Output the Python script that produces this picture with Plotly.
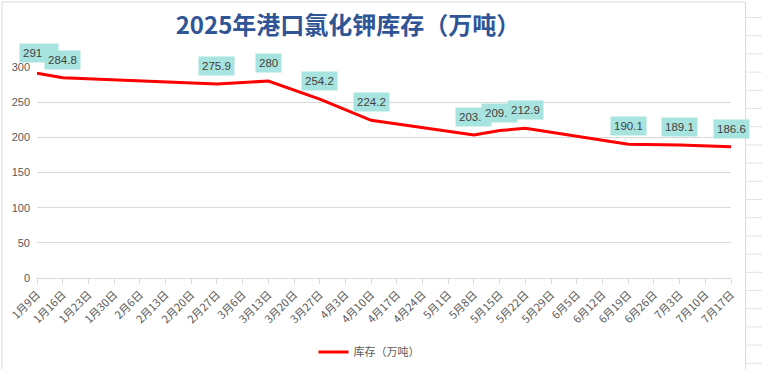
import plotly.graph_objects as go

# ---- data ----
dates = ["2025-01-09", "2025-01-16", "2025-02-27", "2025-03-13", "2025-03-27",
         "2025-04-10", "2025-05-08", "2025-05-15", "2025-05-22", "2025-06-19",
         "2025-07-03", "2025-07-17"]
values = [291, 284.8, 275.9, 280, 254.2, 224.2, 203.3, 209.6, 212.9, 190.1, 189.1, 186.6]

tick_dates = ["2025-01-09", "2025-01-16", "2025-01-23", "2025-01-30", "2025-02-06",
              "2025-02-13", "2025-02-20", "2025-02-27", "2025-03-06", "2025-03-13",
              "2025-03-20", "2025-03-27", "2025-04-03", "2025-04-10", "2025-04-17",
              "2025-04-24", "2025-05-01", "2025-05-08", "2025-05-15", "2025-05-22",
              "2025-05-29", "2025-06-05", "2025-06-12", "2025-06-19", "2025-06-26",
              "2025-07-03", "2025-07-10", "2025-07-17"]
tick_labels = ["1月9日", "1月16日", "1月23日", "1月30日", "2月6日", "2月13日", "2月20日",
               "2月27日", "3月6日", "3月13日", "3月20日", "3月27日", "4月3日", "4月10日",
               "4月17日", "4月24日", "5月1日", "5月8日", "5月15日", "5月22日", "5月29日",
               "6月5日", "6月12日", "6月19日", "6月26日", "7月3日", "7月10日", "7月17日"]

title_text = "2025年港口氯化钾库存（万吨）"
series_name = "库存（万吨）"

W, H = 762, 369
ML, MR, MT, MB = 37, 31, 67, 91
PW, PH = W - ML - MR, H - MT - MB


def px_to_paper_x(px):
    return (px - ML) / PW


def px_to_paper_y(py):
    return (H - MB - py) / PH


fig = go.Figure()
fig.add_trace(go.Scatter(
    x=dates, y=values, mode="lines", name=series_name,
    line=dict(color="#FF0000", width=3),
    cliponaxis=False, hoverinfo="x+y",
))

annotations = []
for i, (d, v) in enumerate(zip(dates, values)):
    ann = dict(
        x=d, y=v, xref="x", yref="y", text=f"{v:g}", showarrow=False,
        yanchor="bottom", yshift=8, bgcolor="#A8E4DF", borderpad=3,
        font=dict(family="Liberation Sans, Arial, sans-serif", size=11.5, color="#404040"),
    )
    if i == 0:
        # first label box is drawn wider, text at its left
        ann.update(width=32, align="left", xshift=2, yshift=10)
    annotations.append(ann)

shapes = []
# chart border
shapes.append(dict(type="rect", xref="paper", yref="paper",
                   x0=px_to_paper_x(2), x1=px_to_paper_x(745.5),
                   y0=px_to_paper_y(380), y1=px_to_paper_y(2),
                   line=dict(color="#D9D9D9", width=1), layer="below"))
# spreadsheet cell lines on the right
yy = 17.5
while yy < H:
    shapes.append(dict(type="line", xref="paper", yref="paper",
                       x0=px_to_paper_x(746), x1=px_to_paper_x(W + 2),
                       y0=px_to_paper_y(yy), y1=px_to_paper_y(yy),
                       line=dict(color="#E3E3E3", width=1), layer="below"))
    yy += 18.2

fig.update_layout(
    width=W, height=H, autosize=False,
    margin=dict(l=ML, r=MR, t=MT, b=MB, pad=0, autoexpand=False),
    paper_bgcolor="white", plot_bgcolor="white",
    title=dict(text=f"<b>{title_text}</b>", x=348 / W, xref="container", xanchor="center",
               y=1 - 26 / H, yanchor="middle",
               font=dict(family="Noto Sans CJK SC, sans-serif", size=24, color="#2F5597")),
    xaxis=dict(type="date", range=[tick_dates[0], tick_dates[-1]],
               tickvals=tick_dates, ticktext=tick_labels, tickangle=-45,
               showgrid=False, showline=True, linecolor="#D9D9D9", linewidth=1,
               ticks="outside", ticklen=5, tickcolor="#D9D9D9",
               tickfont=dict(family="Noto Sans CJK SC, sans-serif", size=11, color="#595959"),
               automargin=False, fixedrange=True),
    yaxis=dict(range=[0, 300], tickvals=[0, 50, 100, 150, 200, 250, 300],
               showgrid=True, gridcolor="#D9D9D9", gridwidth=1, zeroline=False,
               showline=False, ticks="", ticklabelstandoff=6,
               tickfont=dict(family="Liberation Sans, Arial, sans-serif", size=11, color="#595959"),
               automargin=False, fixedrange=True),
    showlegend=True,
    legend=dict(orientation="h", x=369 / W, xanchor="center", xref="container",
                y=1 - 352 / H, yanchor="middle", yref="container",
                font=dict(family="Noto Sans CJK SC, sans-serif", size=11, color="#595959"),
                itemwidth=30, bgcolor="rgba(0,0,0,0)"),
    annotations=annotations,
    shapes=shapes,
)

fig.write_html("out.html", config={"displayModeBar": False},
               post_script="document.body.style.margin='0';document.body.style.overflow='hidden';")
